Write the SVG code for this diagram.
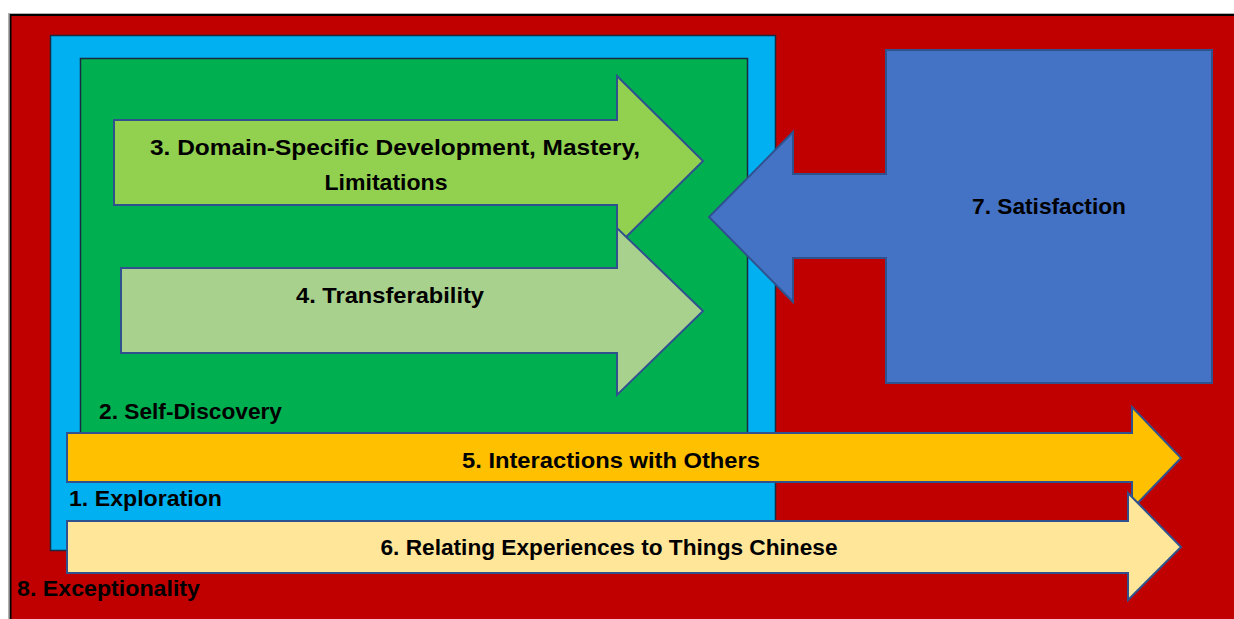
<svg xmlns="http://www.w3.org/2000/svg" width="1234" height="619" viewBox="0 0 1234 619">
  <style>
    .lbl { font-family: "Liberation Sans", Arial, sans-serif; font-weight: bold; font-size: 22px; fill: #000; }
    .mid { text-anchor: middle; }
    .arrow { stroke: #2F528F; stroke-width: 2; stroke-linejoin: miter; }
    .box { stroke: #1a2a40; stroke-width: 1.5; }
  </style>
  <rect x="0" y="0" width="1234" height="619" fill="#ffffff"/>

  <!-- 8. Exceptionality: outer frame -->
  <g id="exceptionality">
    <rect x="8.5" y="13.5" width="1230" height="610" fill="none" stroke="#b0b0b0" stroke-width="1"/>
    <rect x="10.5" y="15" width="1230" height="610" fill="#C00000" stroke="#000" stroke-width="2"/>
    <text class="lbl" x="17" y="596" textLength="183" lengthAdjust="spacingAndGlyphs">8. Exceptionality</text>
  </g>

  <!-- 1. Exploration -->
  <g id="exploration">
    <rect x="50.5" y="35.5" width="725" height="515" fill="#00B0F0" class="box"/>
    <text class="lbl" x="69" y="506" textLength="153" lengthAdjust="spacingAndGlyphs">1. Exploration</text>
  </g>

  <!-- 2. Self-Discovery -->
  <g id="self-discovery">
    <rect x="80.5" y="58.5" width="667" height="380" fill="#00B050" class="box"/>
    <text class="lbl" x="99" y="419" textLength="183" lengthAdjust="spacingAndGlyphs">2. Self-Discovery</text>
  </g>

  <!-- 7. Satisfaction: box with left-pointing arrow -->
  <g id="satisfaction">
    <path class="arrow" fill="#4472C4" d="M886,50 H1212 V383 H886 V258 H793 V302 L709,217 L793,132 V174 H886 Z"/>
    <text class="lbl mid" x="1049" y="214" textLength="154" lengthAdjust="spacingAndGlyphs">7. Satisfaction</text>
  </g>

  <!-- 3. Domain-Specific Development -->
  <g id="domain-specific">
    <path class="arrow" fill="#92D050" d="M114,120 H617 V76 L703,161 L617,246 V205 H114 Z"/>
    <text class="lbl mid" x="395" y="155" textLength="490" lengthAdjust="spacingAndGlyphs">3. Domain-Specific Development, Mastery,</text>
    <text class="lbl mid" x="386" y="190" textLength="123" lengthAdjust="spacingAndGlyphs">Limitations</text>
  </g>

  <!-- 4. Transferability -->
  <g id="transferability">
    <path class="arrow" fill="#A9D18E" d="M121,268 H617 V228 L703,311 L617,395 V353 H121 Z"/>
    <text class="lbl mid" x="390" y="303" textLength="188" lengthAdjust="spacingAndGlyphs">4. Transferability</text>
  </g>

  <!-- 5. Interactions with Others -->
  <g id="interactions">
    <path class="arrow" fill="#FFC000" d="M67,433 H1132 V407 L1181,458 L1132,509 V482 H67 Z"/>
    <text class="lbl mid" x="611" y="468" textLength="298" lengthAdjust="spacingAndGlyphs">5. Interactions with Others</text>
  </g>

  <!-- 6. Relating Experiences to Things Chinese -->
  <g id="relating">
    <path class="arrow" fill="#FFE699" d="M67,521 H1128 V493 L1181,547 L1128,600 V573 H67 Z"/>
    <text class="lbl mid" x="609" y="555" textLength="457" lengthAdjust="spacingAndGlyphs">6. Relating Experiences to Things Chinese</text>
  </g>

  <g id="connectors"></g>
</svg>
